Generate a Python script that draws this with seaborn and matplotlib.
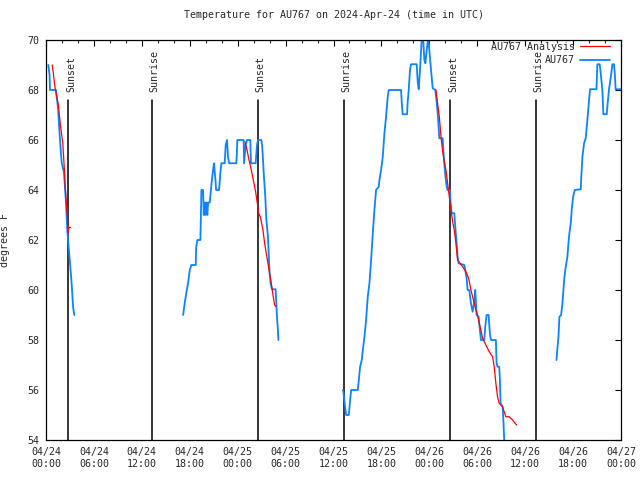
import numpy as np
import pandas as pd
import matplotlib
matplotlib.use("Agg")
import matplotlib.pyplot as plt
import seaborn as sns

# hours since 2024-04-24 00:00 UTC, temperature in degrees F
obs1_h = [0.29, 0.45, 0.5, 1.25, 1.5, 1.75, 1.96, 2.25, 2.5, 2.66, 2.79, 3.0, 3.2, 3.4, 3.54]
obs1_t = [69.0, 68.6, 68.0, 68.0, 67.3, 66.0, 65.1, 64.7, 63.5, 62.4, 61.9, 61.1, 60.3, 59.3, 59.0]

obs2_h = [17.17, 17.38, 17.58, 17.8, 18.0, 18.2, 18.75, 18.8, 18.96, 19.33, 19.4, 19.46, 19.67,
          19.75, 19.85, 19.95, 20.08, 20.2, 20.3, 20.5, 20.71, 20.92, 21.04, 21.25, 21.3, 21.67,
          21.83, 21.96, 22.375, 22.5, 22.67, 22.79, 22.92, 23.83, 23.9, 23.96, 24.75, 24.8, 25.0,
          25.17, 25.58, 25.67, 26.25, 26.42, 26.54, 26.96, 27.08, 27.29, 27.46, 27.58, 27.79,
          27.92, 28.0, 28.125, 28.29, 28.75, 28.83, 28.96, 29.04, 29.1]
obs2_t = [59.0, 59.5, 59.9, 60.3, 60.8, 61.0, 61.0, 61.7, 62.0, 62.0, 63.0, 64.0, 64.0,
          63.0, 63.5, 63.0, 63.5, 63.0, 63.5, 63.5, 64.2, 64.8, 65.07, 64.27, 64.0, 64.0,
          64.67, 65.07, 65.07, 65.8, 66.0, 65.33, 65.07, 65.07, 65.5, 66.0, 66.0, 65.07, 65.8,
          66.0, 66.0, 65.07, 65.07, 65.8, 66.0, 66.0, 65.73, 64.53, 63.73, 62.87, 62.13,
          61.2, 60.67, 60.27, 60.03, 60.03, 59.53, 58.73, 58.4, 58.0]

obs3_h = [37.17, 37.23, 37.58, 37.92, 38.08, 38.21, 39.04, 39.17, 39.33, 39.54, 39.67, 39.875,
          40.08, 40.29, 40.5, 40.71, 40.92, 41.125, 41.33, 41.67, 41.75, 41.96, 42.17, 42.375,
          42.58, 42.79, 42.92, 44.46, 44.58, 44.67, 45.21, 45.29, 45.42, 45.58, 45.71, 46.42,
          46.54, 46.67, 46.83, 47.04, 47.17, 47.375, 47.5, 47.67, 47.875, 48.0, 48.21, 48.42,
          48.75, 48.92, 49.08, 49.25, 49.67, 49.75, 49.875, 50.0, 50.17, 50.29, 50.58, 50.67,
          50.79, 51.125, 51.25, 51.42, 51.54, 51.67, 52.375, 52.5, 52.67, 52.79, 53.0, 53.21,
          53.42, 53.625, 53.75, 53.92, 54.17, 54.33, 54.46, 54.875, 55.0, 55.17, 55.42, 55.58,
          55.71, 56.33, 56.42, 56.54, 56.75, 56.83, 56.92, 57.17, 57.25, 57.375, 57.45]
obs3_t = [56.0, 55.93, 55.0, 55.0, 55.6, 56.0, 56.0, 56.4, 56.93, 57.2, 57.6, 58.13,
          58.8, 59.73, 60.27, 61.2, 62.27, 63.2, 64.0, 64.13, 64.4, 64.8, 65.33, 66.27,
          66.93, 67.73, 68.0, 68.0, 67.33, 67.03, 67.03, 67.53, 68.0, 68.8, 69.03, 69.03,
          68.33, 68.03, 68.8, 70.0, 70.4, 69.2, 69.07, 69.6, 70.13, 69.6, 68.8, 68.07,
          68.0, 67.53, 66.93, 66.07, 66.07, 65.6, 65.07, 64.6, 64.13, 64.0, 64.0, 63.47,
          63.07, 63.07, 62.53, 61.87, 61.33, 61.07, 61.0, 60.8, 60.47, 60.0, 60.0, 59.47,
          59.13, 59.53, 60.0, 59.0, 58.93, 58.4, 58.0, 58.0, 58.53, 59.0, 59.0, 58.27,
          58.0, 58.0, 57.07, 56.93, 56.93, 56.47, 55.47, 55.33, 54.93, 54.0, 53.6]

obs4_h = [63.92, 64.04, 64.17, 64.29, 64.5, 64.67, 64.79, 64.92, 65.08, 65.29, 65.42, 65.54,
          65.71, 65.83, 66.0, 66.21, 66.96, 67.04, 67.17, 67.375, 67.58, 67.79, 68.0, 68.125,
          68.92, 69.04, 69.33, 69.46, 69.67, 69.79, 70.21, 70.33, 70.5, 70.79, 70.92, 71.125,
          71.25, 71.33, 71.96]
obs4_t = [57.2, 57.67, 58.13, 58.93, 59.0, 59.47, 60.0, 60.53, 60.93, 61.33, 61.87, 62.27,
          62.67, 63.2, 63.73, 64.0, 64.03, 64.6, 65.33, 65.87, 66.07, 66.8, 67.6, 68.03,
          68.03, 69.03, 69.03, 68.67, 68.0, 67.03, 67.03, 67.47, 68.03, 68.67, 69.03, 69.03,
          68.53, 68.03, 68.03]

ana1_h = [0.79, 1.13, 1.54, 1.84, 2.09, 2.25, 2.41, 2.59, 2.71, 2.79, 2.85, 3.09]
ana1_t = [69.0, 68.1, 67.4, 66.5, 65.9, 65.1, 64.1, 63.3, 62.8, 62.3, 62.5, 62.5]

ana2_h = [24.92, 25.17, 25.42, 25.71, 26.0, 26.25, 26.46, 26.625, 26.83, 27.17, 27.375,
          27.58, 27.79, 28.0, 28.21, 28.42, 28.625, 28.83]
ana2_t = [65.93, 65.6, 65.2, 64.8, 64.33, 63.93, 63.47, 63.07, 62.93, 62.4, 61.87,
          61.47, 61.07, 60.67, 60.27, 59.8, 59.4, 59.33]

ana3_h = [48.83, 49.0, 49.25, 49.46, 49.67, 49.875, 50.08, 50.29, 50.5, 50.71, 50.92, 51.125,
          51.33, 51.54, 51.83, 52.17, 52.58, 52.92, 53.21, 53.42, 53.625, 53.83, 54.04, 54.25,
          54.46, 54.67, 55.08, 55.5, 55.92, 56.125, 56.33, 56.54, 56.75, 57.17, 57.58, 58.0,
          58.42, 58.92]
ana3_t = [68.0, 67.53, 66.93, 66.13, 65.53, 65.13, 64.8, 64.27, 63.73, 63.2, 62.73, 62.4,
          61.87, 61.2, 61.07, 60.93, 60.73, 60.47, 60.0, 59.73, 59.47, 59.2, 59.0, 58.67,
          58.4, 58.07, 57.8, 57.53, 57.33, 56.93, 56.27, 55.73, 55.47, 55.33, 54.93, 54.93,
          54.8, 54.6]

sunset_h = [2.79, 26.55, 50.65]
sunrise_h = [13.28, 37.27, 61.33]

tick_h = list(range(0, 73, 6))
tick_labels = ["04/24\n00:00", "04/24\n06:00", "04/24\n12:00", "04/24\n18:00",
               "04/25\n00:00", "04/25\n06:00", "04/25\n12:00", "04/25\n18:00",
               "04/26\n00:00", "04/26\n06:00", "04/26\n12:00", "04/26\n18:00",
               "04/27\n00:00"]

obs_segments = [(obs1_h, obs1_t), (obs2_h, obs2_t), (obs3_h, obs3_t), (obs4_h, obs4_t)]
ana_segments = [(ana1_h, ana1_t), (ana2_h, ana2_t), (ana3_h, ana3_t)]

sns.set_style("white")
plt.rcParams['font.family'] = ['DejaVu Sans Mono']
plt.rcParams['font.size'] = 7.2

fig = plt.figure(figsize=(6.4, 4.8), dpi=100)
ax = fig.add_axes([46 / 640, 1 - 440 / 480, 575 / 640, 400 / 480])

BLUE = "#0a84ff"
RED = "#ff0000"

# sunrise / sunset markers
for h in sunset_h:
    ax.plot([h, h], [54, 67.6], color="black", lw=1.1, zorder=1)
    ax.text(h + 0.35, 67.9, "Sunset", rotation=90, ha="center", va="bottom", fontsize=7.2)
for h in sunrise_h:
    ax.plot([h, h], [54, 67.6], color="black", lw=1.1, zorder=1)
    ax.text(h + 0.35, 67.9, "Sunrise", rotation=90, ha="center", va="bottom", fontsize=7.2)

for i, (hh, tt) in enumerate(ana_segments):
    df = pd.DataFrame({"hour": hh, "temp": tt})
    sns.lineplot(data=df, x="hour", y="temp", ax=ax, color=RED, lw=0.9, sort=False,
                 estimator=None, label="AU767 Analysis" if i == 0 else None, zorder=3)
for i, (hh, tt) in enumerate(obs_segments):
    df = pd.DataFrame({"hour": hh, "temp": tt})
    sns.lineplot(data=df, x="hour", y="temp", ax=ax, color=BLUE, lw=1.3, sort=False,
                 estimator=None, label="AU767" if i == 0 else None, zorder=2)

ax.set_xlim(0, 72)
ax.set_ylim(54, 70)
ax.set_xticks(tick_h)
ax.set_xticklabels(tick_labels)
ax.set_xticks(np.arange(0, 73, 2), minor=True)
ax.set_yticks(np.arange(54, 71, 2))
ax.tick_params(axis="both", which="major", direction="in", length=4, width=0.8,
               top=True, right=True, labelsize=7.2, color="black")
ax.tick_params(axis="x", which="major", pad=5)
ax.tick_params(axis="y", which="major", pad=5)
ax.tick_params(axis="x", which="minor", direction="in", length=2, width=0.8, top=True)
for s in ax.spines.values():
    s.set_color("black")
    s.set_linewidth(0.9)

ax.set_xlabel("")
ax.set_ylabel("degrees F", fontsize=7.2)
ax.yaxis.set_label_coords(-0.062, 0.5)
ax.set_title("Temperature for AU767 on 2024-Apr-24 (time in UTC)", fontsize=7.2, pad=16)

leg = ax.legend(loc="upper right", bbox_to_anchor=(0.981, 0.995), frameon=False,
                markerfirst=False, handlelength=3.0, handletextpad=0.5,
                labelspacing=0.35, borderaxespad=0, borderpad=0, fontsize=7.2)

fig.savefig("out.png", dpi=100)
